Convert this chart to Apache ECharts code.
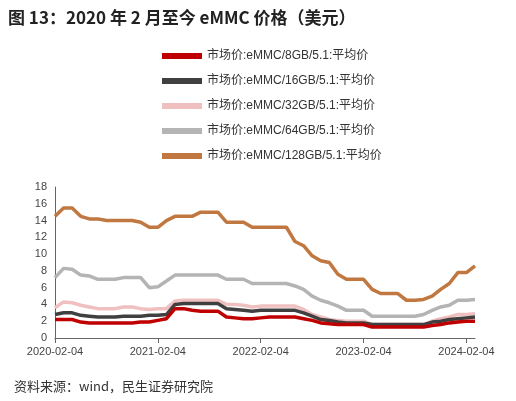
<!DOCTYPE html>
<html><head><meta charset="utf-8">
<script src="https://cdn.jsdelivr.net/npm/echarts@6/dist/echarts.min.js"></script>
<style>
body{margin:0;background:#fff;font-family:"Noto Sans CJK SC",sans-serif}
#title{position:absolute;left:8px;top:4px;font-size:17px;font-weight:bold;color:#222}
#src{position:absolute;left:14px;top:376px;font-size:13px;color:#333}
#c{position:absolute;left:0;top:0;width:516px;height:401px}
</style></head><body>
<div id="c"></div>
<div id="title">图 13：2020 年 2 月至今 eMMC 价格（美元）</div>
<div id="src">资料来源：wind，民生证券研究院</div>
<script>
const months = [];
for (let i = 0; i < 50; i++) {
    const d = new Date(2020, 1 + i, 4);
    months.push(d.getFullYear() + '-' + String(d.getMonth() + 1).padStart(2, '0') + '-04');
}
const gb8 = [2.2,2.2,2.2,1.9,1.8,1.8,1.8,1.8,1.8,1.8,1.9,1.9,2.1,2.3,3.5,3.5,3.3,3.2,3.2,3.2,2.5,2.4,2.3,2.3,2.4,2.5,2.5,2.5,2.5,2.3,2.1,1.8,1.7,1.6,1.6,1.6,1.6,1.3,1.3,1.3,1.3,1.3,1.3,1.3,1.5,1.6,1.8,1.9,2.0,2.0];
const gb16 = [2.8,3.0,3.0,2.7,2.6,2.5,2.5,2.5,2.6,2.6,2.6,2.7,2.7,2.8,4.0,4.1,4.1,4.1,4.1,4.1,3.5,3.4,3.3,3.2,3.3,3.3,3.3,3.3,3.3,3.0,2.6,2.2,2.1,1.9,1.8,1.8,1.8,1.6,1.6,1.6,1.6,1.6,1.6,1.6,1.9,2.0,2.2,2.3,2.4,2.5];
const gb32 = [3.6,4.3,4.2,3.9,3.7,3.5,3.5,3.5,3.7,3.7,3.5,3.4,3.5,3.5,4.4,4.5,4.5,4.5,4.5,4.5,4.0,4.0,3.9,3.7,3.8,3.8,3.8,3.8,3.8,3.4,2.8,2.5,2.2,2.1,2.0,2.0,2.0,1.6,1.6,1.6,1.6,1.6,1.6,1.6,2.0,2.3,2.5,2.8,2.8,2.9];
const gb64 = [7.2,8.3,8.2,7.5,7.4,7.0,7.0,7.0,7.2,7.2,7.2,6.0,6.1,6.8,7.5,7.5,7.5,7.5,7.5,7.5,7.0,7.0,7.0,6.5,6.5,6.5,6.5,6.5,6.2,5.8,5.0,4.5,4.2,3.8,3.3,3.3,3.3,2.6,2.6,2.6,2.6,2.6,2.6,2.8,3.3,3.7,3.9,4.5,4.5,4.6];
const gb128 = [14.5,15.5,15.5,14.5,14.2,14.2,14.0,14.0,14.0,14.0,13.8,13.2,13.2,14.0,14.5,14.5,14.5,15.0,15.0,15.0,13.8,13.8,13.8,13.2,13.2,13.2,13.2,13.2,11.5,11.0,9.8,9.2,9.0,7.6,7.0,7.0,7.0,5.8,5.3,5.3,5.3,4.5,4.5,4.6,5.0,5.8,6.5,7.8,7.8,8.6];
const names = ['市场价:eMMC/8GB/5.1:平均价','市场价:eMMC/16GB/5.1:平均价','市场价:eMMC/32GB/5.1:平均价','市场价:eMMC/64GB/5.1:平均价','市场价:eMMC/128GB/5.1:平均价'];
const colors = ['#c00000','#404040','#f0c0c0','#b4b4b4','#c07840'];
const seriesData = [gb8, gb16, gb32, gb64, gb128];

const chart = echarts.init(document.getElementById('c'));
chart.setOption({
    animation: false,
    color: colors,
    textStyle: { fontFamily: 'Liberation Sans, Noto Sans CJK SC' },
    legend: {
        orient: 'vertical', left: 157, top: 45, itemGap: 13,
        itemWidth: 40, itemHeight: 6, icon: 'rect',
        textStyle: { fontSize: 12, color: '#333' },
        data: names
    },
    grid: { left: 55, right: 41, top: 187, bottom: 63 },
    xAxis: {
        type: 'category', data: months, boundaryGap: false,
        axisLine: { lineStyle: { color: '#666' } },
        axisTick: { interval: 11, lineStyle: { color: '#666' } },
        axisLabel: { interval: 11, color: '#444', fontSize: 11 }
    },
    yAxis: {
        type: 'value', min: 0, max: 18, interval: 2,
        splitLine: { show: false },
        axisLine: { show: true, lineStyle: { color: '#666' } },
        axisLabel: { color: '#444', fontSize: 11 }
    },
    series: seriesData.map((d, i) => ({
        name: names[i], type: 'line', data: d,
        symbol: 'none', z: i === 0 ? 10 : 7 - i,
        lineStyle: { width: 3.5, color: colors[i] }
    }))
});
</script>
</body></html>
